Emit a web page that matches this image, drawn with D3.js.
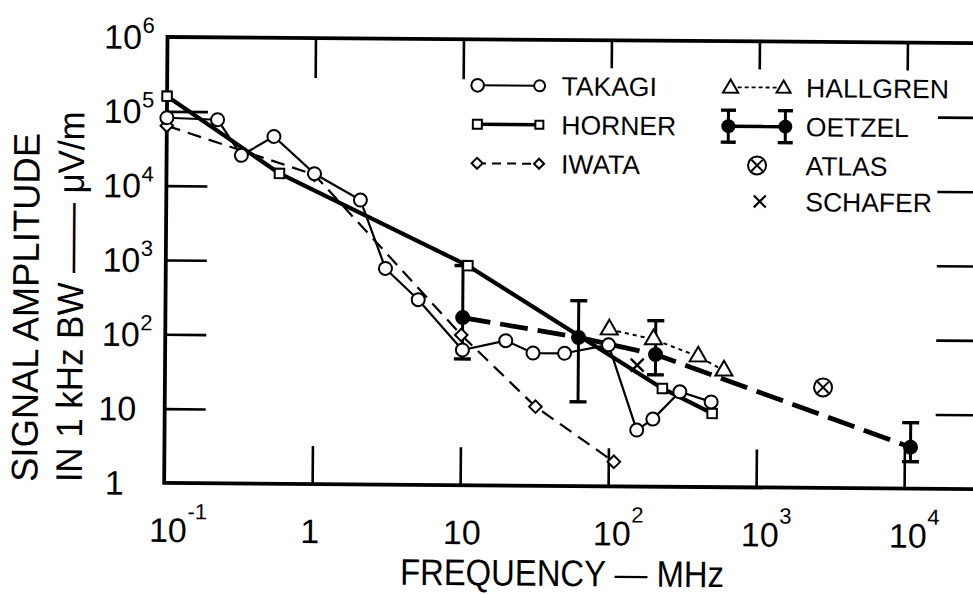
<!DOCTYPE html>
<html><head><meta charset="utf-8">
<script src="https://cdn.jsdelivr.net/npm/d3@7"></script>
<style>html,body{margin:0;background:#fff;} svg{display:block;}</style>
</head><body>
<script>
// ---------- data ----------
const xTicks = [0.1, 1, 10, 100, 1000, 10000];
const xTickBase = ["10", "1", "10", "10", "10", "10"];
const xTickSup = ["-1", "", "", "2", "3", "4"];
const yTicks = [1, 10, 100, 1e3, 1e4, 1e5, 1e6];
const yTickBase = ["1", "10", "10", "10", "10", "10", "10"];
const yTickSup = ["", "", "2", "3", "4", "5", "6"];

const takagi = [[0.1, 8.2e4], [0.22, 7.8e4], [0.32, 2.6e4], [0.53, 4.7e4], [1.0, 1.5e4], [2.05, 6.7e3],
  [3.05, 810], [5.1, 310], [10.2, 66], [20, 89], [30.6, 61], [50, 61], [99, 80], [155, 5.75],
  [199, 8.1], [302, 19], [492, 14]];
const horner = [[0.1, 1.6e5], [0.58, 1.5e4], [11, 900], [230, 21], [500, 9.8]];
const iwata = [[0.1, 6.4e4], [1.0, 1.45e4], [10, 105], [32, 11.6], [109, 2.14]];
const hallgren = [[100, 129], [199, 96], [400, 57], [598, 37]];
// [frequency, value, low, high]
const oetzel = [[10.2, 180, 50, 900], [62, 100, 13.6, 312], [206, 60, 32, 171], [11000, 3.6, 2.3, 7.7]];
const atlas = [[2800, 22.5]];
const schafer = [[155, 43]];

const legendLeft = ["TAKAGI", "HORNER", "IWATA"];
const legendRight = ["HALLGREN", "OETZEL", "ATLAS", "SCHAFER"];
const xTitle = "FREQUENCY — MHz";
const yTitle1 = "SIGNAL AMPLITUDE";
const yTitle2 = "IN 1 kHz BW —— μV/m";

// ---------- layout ----------
const W = 973, H = 594;
const FONT = "'Liberation Sans', Arial, Helvetica, sans-serif";
const svg = d3.select("body").append("svg").attr("width", W).attr("height", H)
  .style("font-family", FONT);
svg.append("rect").attr("width", W).attr("height", H).attr("fill", "#fff");
const g = svg.append("g").attr("transform", "rotate(0.43,168,37)");

const x = d3.scaleLog().domain([0.1, Math.pow(10, 4.48)]).range([167.5, 978.5]);
const y = d3.scaleLog().domain([1, 1e6]).range([483, 37]);
const X0 = x.range()[0], X1 = x.range()[1], Y0 = y.range()[0], Y1 = y.range()[1];

// tick marks via d3 axes
function tickAxis(axis, tx, ty) {
  const a = g.append("g").attr("transform", `translate(${tx},${ty})`).call(axis);
  a.select(".domain").remove();
  a.selectAll(".tick line").attr("stroke", "#000").attr("stroke-width", 2.6);
  a.selectAll(".tick text").remove();
}
tickAxis(d3.axisBottom(x).tickValues([1, 10, 100, 1000, 10000]).tickSize(-38).tickFormat(""), 0, Y0);
tickAxis(d3.axisTop(x).tickValues([1, 10]).tickSize(-40).tickFormat(""), 0, Y1);
tickAxis(d3.axisTop(x).tickValues([100, 1000, 10000]).tickSize(-28).tickFormat(""), 0, Y1);
tickAxis(d3.axisLeft(y).tickValues([10, 100, 1e3, 1e4, 1e5]).tickSize(-41).tickFormat(""), X0, 0);
tickAxis(d3.axisRight(y).tickValues([10, 100, 1e3, 1e4, 1e5]).tickSize(-40).tickFormat(""), X1, 0);

// frame
g.append("path")
  .attr("d", `M${X1},${Y1}L${X0},${Y1}L${X0},${Y0}L${X1},${Y0}Z`)
  .attr("fill", "none").attr("stroke", "#000").attr("stroke-width", 3.8);

// tick labels
yTicks.forEach((t, i) => {
  const yy = y(t);
  if (yTickSup[i] === "") {
    g.append("text").attr("x", yTickBase[i] === "1" ? 127 : 139).attr("y", yy + 12)
      .attr("text-anchor", "end").attr("font-size", 34).text(yTickBase[i]);
  } else {
    g.append("text").attr("x", 142).attr("y", yy + 12).attr("text-anchor", "end")
      .attr("font-size", 34).text(yTickBase[i]);
    g.append("text").attr("x", 142.5).attr("y", yy - 4).attr("text-anchor", "start")
      .attr("font-size", 22).text(yTickSup[i]);
  }
});
xTicks.forEach((t, i) => {
  const xx = x(t);
  if (xTickSup[i] === "") {
    const cx = xTickBase[i] === "1" ? xx - 2 : xx + 2;
    g.append("text").attr("x", cx).attr("y", 542).attr("text-anchor", "middle")
      .attr("font-size", 34).text(xTickBase[i]);
  } else {
    g.append("text").attr("x", xx + 23).attr("y", 542).attr("text-anchor", "end")
      .attr("font-size", 34).text(xTickBase[i]);
    g.append("text").attr("x", xx + 23.5).attr("y", 519).attr("text-anchor", "start")
      .attr("font-size", 22).text(xTickSup[i]);
  }
});

// titles
g.append("text").attr("x", 566).attr("y", 583).attr("text-anchor", "middle")
  .attr("font-size", 37).attr("textLength", 324).attr("lengthAdjust", "spacingAndGlyphs").text(xTitle);
g.append("text").attr("transform", "translate(40.5,308.5) rotate(-90)").attr("text-anchor", "middle")
  .attr("font-size", 37).attr("textLength", 349).attr("lengthAdjust", "spacingAndGlyphs").text(yTitle1);
g.append("text").attr("transform", "translate(85,297.5) rotate(-90)").attr("text-anchor", "middle")
  .attr("font-size", 37).attr("textLength", 371).attr("lengthAdjust", "spacingAndGlyphs").text(yTitle2);

// ---------- series lines ----------
const line = d3.line().x(d => x(d[0])).y(d => y(d[1]));
function drawLine(data, w, dash) {
  g.append("path").attr("d", line(data)).attr("fill", "none").attr("stroke", "#000")
    .attr("stroke-width", w).attr("stroke-dasharray", dash || null)
    .attr("stroke-linejoin", "round");
}
drawLine(iwata, 2.2, "14,8");
drawLine(takagi, 2.2);
drawLine(hallgren, 2, "4,4");
drawLine(horner, 4.2);
drawLine(oetzel, 4.8, "28,10");

// error bars
function errBar(px, lo, hi, cap) {
  g.append("line").attr("x1", px).attr("x2", px).attr("y1", lo).attr("y2", hi)
    .attr("stroke", "#000").attr("stroke-width", 3);
  [lo, hi].forEach(v => g.append("line").attr("x1", px - cap).attr("x2", px + cap)
    .attr("y1", v).attr("y2", v).attr("stroke", "#000").attr("stroke-width", 3.4));
}
oetzel.forEach(d => errBar(x(d[0]), y(d[2]), y(d[3]), 8.5));

// ---------- markers ----------
function openCircle(cx, cy, r) {
  g.append("circle").attr("cx", cx).attr("cy", cy).attr("r", r || 6.5)
    .attr("fill", "#fff").attr("stroke", "#000").attr("stroke-width", 2);
}
function square(cx, cy, s) {
  s = s || 9.5;
  g.append("rect").attr("x", cx - s / 2).attr("y", cy - s / 2).attr("width", s).attr("height", s)
    .attr("fill", "#fff").attr("stroke", "#000").attr("stroke-width", 2);
}
function diamond(cx, cy, h) {
  h = h || 6.3;
  g.append("path").attr("d", `M${cx},${cy - h}L${cx + h},${cy}L${cx},${cy + h}L${cx - h},${cy}Z`)
    .attr("fill", "#fff").attr("stroke", "#000").attr("stroke-width", 2);
}
function triangle(cx, cy, size) {
  g.append("path").attr("transform", `translate(${cx},${cy})`)
    .attr("d", d3.symbol(d3.symbolTriangle, size || 125)())
    .attr("fill", "#fff").attr("stroke", "#000").attr("stroke-width", 2);
}
function filled(cx, cy, r) {
  g.append("circle").attr("cx", cx).attr("cy", cy).attr("r", r || 7.5).attr("fill", "#000");
}
function cross(cx, cy, a, w) {
  g.append("path").attr("d", `M${cx - a},${cy - a}L${cx + a},${cy + a}M${cx - a},${cy + a}L${cx + a},${cy - a}`)
    .attr("stroke", "#000").attr("stroke-width", w || 2.2).attr("fill", "none");
}
function atlasMark(cx, cy) {
  g.append("circle").attr("cx", cx).attr("cy", cy).attr("r", 9)
    .attr("fill", "#fff").attr("stroke", "#000").attr("stroke-width", 2);
  cross(cx, cy, 5.6, 2);
}

iwata.forEach(d => diamond(x(d[0]), y(d[1])));
hallgren.forEach(d => triangle(x(d[0]), y(d[1])));
oetzel.forEach(d => filled(x(d[0]), y(d[1])));
horner.forEach(d => square(x(d[0]), y(d[1])));
takagi.forEach(d => openCircle(x(d[0]), y(d[1])));
atlas.forEach(d => atlasMark(x(d[0]), y(d[1])));
schafer.forEach(d => cross(x(d[0]), y(d[1]), 6.5, 2.4));

// ---------- legend ----------
const rows = [83, 122, 161, 197];
const lfs = 26.5;
function legLine(x1, x2, yy, w, dash) {
  g.append("line").attr("x1", x1).attr("x2", x2).attr("y1", yy).attr("y2", yy)
    .attr("stroke", "#000").attr("stroke-width", w).attr("stroke-dasharray", dash || null);
}
// left column
legLine(478, 540, rows[0], 2);
openCircle(478, rows[0], 6.3); openCircle(540, rows[0], 5.5);
legLine(478, 540, rows[1], 3.6);
square(478, rows[1], 9); square(540, rows[1], 8);
legLine(478, 540, rows[2], 2, "9,6");
diamond(478, rows[2], 5.5); diamond(540, rows[2], 5);
legendLeft.forEach((t, i) => g.append("text").attr("x", 562).attr("y", rows[i] + 9.5)
  .attr("font-size", lfs).text(t));
// right column
legLine(731, 784, rows[0], 1.8, "4,3");
triangle(731, rows[0] + 1, 100); triangle(784, rows[0] + 1, 85);
legLine(729, 786, rows[1], 3.6);
[729, 786].forEach(px => { errBar(px, rows[1] + 16, rows[1] - 16, 7.5); filled(px, rows[1], 7); });
atlasMark(758, rows[2]);
cross(761, rows[3], 6, 2.2);
legendRight.forEach((t, i) => g.append("text").attr("x", 806.5).attr("y", rows[i] + 9.5)
  .attr("font-size", lfs).text(t));
</script>
</body></html>
